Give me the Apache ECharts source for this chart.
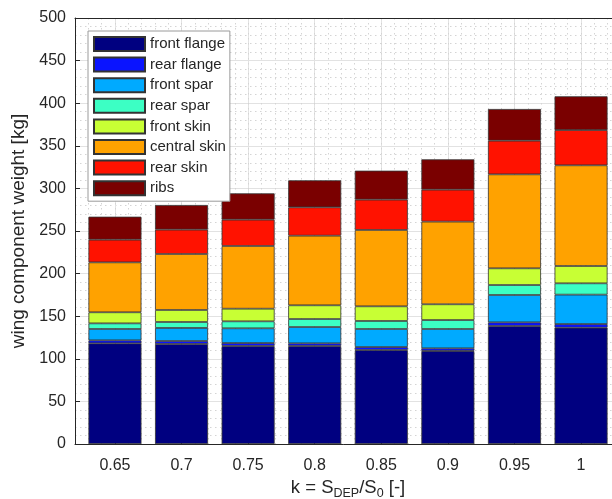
<!DOCTYPE html>
<html>
<head>
<meta charset="utf-8">
<script src="https://cdn.jsdelivr.net/npm/echarts@6/dist/echarts.min.js"></script>
<style>
  html, body { margin: 0; padding: 0; background: #fff; }
  #chart { width: 612px; height: 499px; }
</style>
</head>
<body>
<div id="chart"></div>
<script>
// k = S_DEP / S_0
const kLabels = ["0.65", "0.7", "0.75", "0.8", "0.85", "0.9", "0.95", "1"];
const positions = [1, 2, 3, 4, 5, 6, 7, 8];

const components = ["front flange", "rear flange", "front spar", "rear spar",
  "front skin", "central skin", "rear skin", "ribs"];
const colors = ["#000080", "#0a14ff", "#00aaff", "#3cffc4",
  "#c8ff34", "#ffa200", "#ff1200", "#7a0000"];

// weights [kg], stacked bottom to top
const frontFlange = [118.2, 117.4, 115.0, 115.0, 110.3, 109.2, 138.5, 136.5];
const rearFlange = [3.5, 3.5, 3.5, 3.2, 3.5, 3.1, 4.3, 4.3];
const frontSpar = [13.3, 15.3, 17.3, 19.1, 21.2, 22.7, 32.1, 34.5];
const rearSpar = [6.6, 7.0, 8.2, 9.4, 9.4, 10.5, 11.7, 13.3];
const frontSkin = [13.0, 14.1, 14.8, 16.1, 17.2, 18.5, 19.6, 20.3];
const centralSkin = [58.6, 65.7, 73.6, 81.7, 89.6, 97.0, 110.3, 118.2];
const rearSkin = [26.6, 28.6, 30.9, 33.3, 35.6, 37.5, 39.5, 41.4];
const ribs = [27.0, 28.9, 30.9, 31.7, 34.0, 35.6, 37.2, 39.6];

const values = [frontFlange, rearFlange, frontSpar, rearSpar,
  frontSkin, centralSkin, rearSkin, ribs];

const font = "'Liberation Sans', Arial, sans-serif";
const ink = "#262626";

// frame axes run 0.4 .. 8.6 (in category index units); bars sit in a
// second grid whose 8 category bands cover 0.5 .. 8.5 of that range
const xMin = 0.4, xMax = 8.6;
const frame = { left: 75, right: -9, top: 18, bottom: 55, outerBoundsMode: "none" };
const unit = (612 - frame.left - frame.right) / (xMax - xMin);

const chart = echarts.init(document.getElementById("chart"));
chart.setOption({
  animation: false,
  color: colors,
  textStyle: { fontFamily: font },
  grid: [
    frame,
    {
      left: frame.left + (0.5 - xMin) * unit,
      right: frame.right + (xMax - 8.5) * unit,
      top: frame.top,
      bottom: frame.bottom,
      outerBoundsMode: "none",
    },
  ],
  legend: {
    orient: "vertical",
    left: 88,
    top: 31,
    data: components,
    icon: "rect",
    itemWidth: 51,
    itemHeight: 14,
    itemGap: 4.6,
    padding: [5, 4, 5, 5],
    backgroundColor: "#fff",
    borderColor: "#9a9a9a",
    borderWidth: 1,
    textStyle: { fontSize: 15, color: ink, fontFamily: font },
  },
  xAxis: [
    {
      gridIndex: 0,
      type: "value",
      min: xMin,
      max: xMax,
      position: "bottom",
      axisLine: { show: true, lineStyle: { color: ink, width: 1 } },
      axisTick: {
        show: true,
        inside: true,
        length: 5,
        customValues: positions,
        lineStyle: { color: ink },
      },
      axisLabel: {
        customValues: positions,
        formatter: (v) => kLabels[Math.round(v) - 1],
        fontSize: 16,
        color: ink,
        margin: 14,
      },
      splitLine: { show: true, lineStyle: { color: "#e2e2e2", width: 1 } },
      name: "{t|k = S}{s|DEP}{t|/S}{s|0}{t| [-]}",
      nameLocation: "middle",
      nameGap: 33,
      nameTextStyle: {
        rich: {
          t: { fontSize: 18.5, color: ink, fontFamily: font, lineHeight: 20, verticalAlign: "top" },
          s: { fontSize: 12.5, color: ink, fontFamily: font, lineHeight: 30 },
        },
      },
    },
    {
      gridIndex: 0,
      type: "value",
      min: xMin,
      max: xMax,
      interval: 0.2,
      position: "top",
      axisLine: { show: true, lineStyle: { color: ink, width: 1 } },
      axisTick: { show: false },
      axisLabel: { show: false },
      splitLine: {
        show: true,
        lineStyle: { color: "#d4d4d4", width: 1, type: [1.5, 3.5] },
      },
    },
    {
      gridIndex: 1,
      type: "category",
      data: kLabels,
      show: false,
    },
  ],
  yAxis: [
    {
      gridIndex: 0,
      type: "value",
      min: 0,
      max: 500,
      interval: 50,
      axisLine: { show: true, lineStyle: { color: ink, width: 1 } },
      axisTick: { show: true, inside: true, length: 5, lineStyle: { color: ink } },
      axisLabel: { fontSize: 16, color: ink, margin: 9 },
      splitLine: { show: true, lineStyle: { color: "#e2e2e2", width: 1 } },
      minorTick: { show: false, splitNumber: 5 },
      minorSplitLine: {
        show: true,
        lineStyle: { color: "#d4d4d4", width: 1, type: [1.5, 3.5] },
      },
      name: "wing component weight [kg]",
      nameLocation: "middle",
      nameGap: 38,
      nameTextStyle: { fontSize: 19, color: ink, fontFamily: font },
    },
    {
      gridIndex: 1,
      type: "value",
      min: 0,
      max: 500,
      show: false,
    },
  ],
  series: components.map((name, i) => ({
    name: name,
    type: "bar",
    stack: "weight",
    xAxisIndex: 2,
    yAxisIndex: 1,
    barWidth: 53,
    itemStyle: { borderColor: "#333", borderWidth: 0.8 },
    emphasis: { disabled: true },
    data: values[i],
  })),
});
</script>
</body>
</html>
